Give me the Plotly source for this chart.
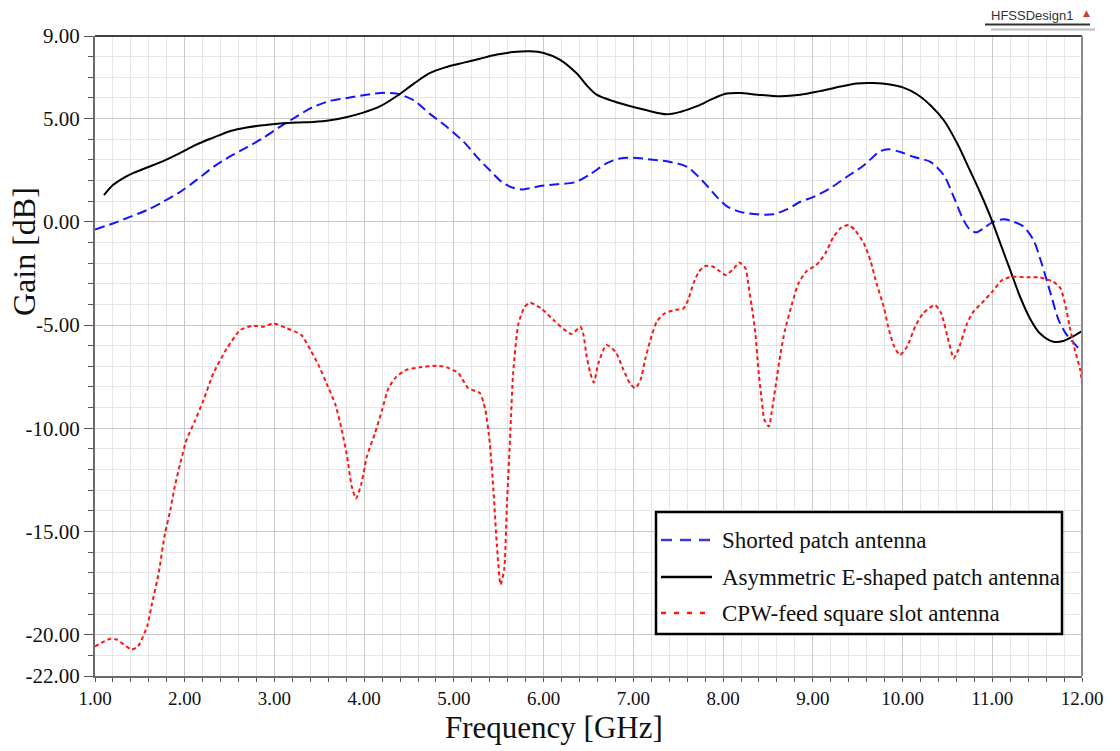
import plotly.graph_objects as go

# ---- data: antenna gain vs frequency ----
freq_shorted = [1.0, 1.2, 1.39, 1.58, 1.76, 1.95, 2.13, 2.32, 2.51, 2.69, 2.88, 3.06, 3.25, 3.43,
                3.62, 3.81, 3.99, 4.18, 4.36, 4.55, 4.73, 4.92, 5.11, 5.29, 5.40, 5.53, 5.66, 5.77,
                5.96, 6.15, 6.35, 6.52, 6.70, 6.85, 7.00, 7.19, 7.41, 7.60, 7.78, 7.93, 8.04, 8.19,
                8.38, 8.56, 8.71, 8.86, 9.01, 9.19, 9.38, 9.57, 9.75, 9.84, 9.97, 10.12, 10.31,
                10.46, 10.57, 10.68, 10.75, 10.82, 10.90, 11.01, 11.13, 11.24, 11.35, 11.46, 11.55,
                11.65, 11.74, 11.83, 11.93, 12.0]
gain_shorted = [-0.37, -0.08, 0.24, 0.57, 0.97, 1.45, 2.02, 2.66, 3.18, 3.6, 4.08, 4.6, 5.11, 5.56,
                5.86, 6.0, 6.13, 6.24, 6.21, 5.89, 5.24, 4.6, 3.87, 2.98, 2.5, 1.94, 1.65, 1.57,
                1.73, 1.82, 1.92, 2.31, 2.83, 3.07, 3.1, 3.02, 2.9, 2.66, 1.94, 1.21, 0.76, 0.48,
                0.36, 0.37, 0.6, 0.97, 1.21, 1.62, 2.18, 2.74, 3.42, 3.52, 3.39, 3.15, 2.9,
                2.26, 1.21, 0.08, -0.37, -0.51, -0.32, 0.0, 0.12, 0.0, -0.24, -0.89, -2.01,
                -3.47, -4.76, -5.48, -5.97, -6.29]

freq_eshape = [1.10, 1.20, 1.32, 1.43, 1.58, 1.76, 1.95, 2.13, 2.32, 2.51, 2.69, 2.88, 3.06, 3.25,
               3.43, 3.62, 3.81, 3.99, 4.18, 4.36, 4.55, 4.73, 4.92, 5.11, 5.29, 5.48, 5.66, 5.85,
               6.00, 6.18, 6.37, 6.48, 6.59, 6.78, 6.96, 7.15, 7.37, 7.52, 7.71, 7.89, 8.04, 8.19,
               8.38, 8.64, 8.86, 9.08, 9.31, 9.49, 9.68, 9.86, 10.01, 10.16, 10.31, 10.46, 10.61,
               10.75, 10.87, 10.98, 11.09, 11.20, 11.31, 11.42, 11.53, 11.68, 11.80, 11.91, 12.0]
gain_eshape = [1.29, 1.78, 2.13, 2.37, 2.63, 2.94, 3.34, 3.74, 4.08, 4.4, 4.57, 4.68, 4.76, 4.81,
               4.84, 4.92, 5.08, 5.29, 5.6, 6.08, 6.68, 7.2, 7.5, 7.71, 7.9, 8.1, 8.22, 8.26,
               8.18, 7.86, 7.18, 6.61, 6.16, 5.84, 5.61, 5.4, 5.21, 5.32, 5.6, 5.97, 6.21, 6.24,
               6.16, 6.08, 6.15, 6.33, 6.55, 6.7, 6.72, 6.65, 6.5, 6.18, 5.65, 4.92, 3.79,
               2.5, 1.37, 0.24, -1.05, -2.34, -3.63, -4.68, -5.4, -5.81, -5.76, -5.52, -5.29]

freq_cpw = [1.00, 1.17, 1.24, 1.41, 1.48, 1.58, 1.63, 1.71, 1.78, 1.84, 1.89, 1.95, 2.02, 2.11,
            2.21, 2.32, 2.47, 2.62, 2.76, 2.88, 2.99, 3.14, 3.30, 3.40, 3.49, 3.58, 3.68, 3.75,
            3.81, 3.86, 3.91, 3.97, 4.03, 4.12, 4.20, 4.27, 4.36, 4.47, 4.62, 4.81, 4.92, 5.05,
            5.16, 5.29, 5.35, 5.40, 5.44, 5.48, 5.52, 5.56, 5.59, 5.63, 5.66, 5.72, 5.79, 5.85,
            5.98, 6.11, 6.31, 6.41, 6.44, 6.48, 6.52, 6.56, 6.61, 6.70, 6.80, 6.89, 6.96, 7.02,
            7.08, 7.13, 7.19, 7.26, 7.35, 7.47, 7.56, 7.61, 7.67, 7.73, 7.80, 7.89, 7.97, 8.03,
            8.12, 8.18, 8.25, 8.28, 8.32, 8.36, 8.39, 8.43, 8.46, 8.51, 8.54, 8.59, 8.64, 8.69,
            8.77, 8.84, 8.93, 9.04, 9.14, 9.23, 9.32, 9.40, 9.47, 9.57, 9.64, 9.71, 9.79, 9.84,
            9.90, 9.97, 10.05, 10.14, 10.23, 10.36, 10.43, 10.51, 10.57, 10.62, 10.72, 10.79,
            10.88, 11.00, 11.11, 11.22, 11.39, 11.53, 11.68, 11.76, 11.81, 11.87, 11.92, 11.98,
            12.00]
gain_cpw = [-20.56, -20.2, -20.23, -20.72, -20.56, -19.6, -18.6, -17.0, -15.1, -13.95, -12.8, -11.7,
            -10.56, -9.68, -8.63, -7.33, -6.13, -5.24, -5.03, -5.08, -4.92, -5.16, -5.48, -6.2,
            -6.93, -7.82, -8.87, -10.08, -11.37, -12.8, -13.4, -12.66, -11.37, -10.24, -9.11,
            -8.06, -7.5, -7.17, -7.05, -6.97, -7.05, -7.33, -8.06, -8.3, -9.11, -10.72, -12.98,
            -15.72, -17.58, -16.85, -13.79, -10.08, -7.33, -4.92, -4.11, -3.92, -4.22, -4.76,
            -5.43, -5.08, -5.4, -6.53, -7.33, -7.79, -6.85, -5.97, -6.29, -7.17, -7.82, -8.06,
            -7.66, -6.69, -5.72, -4.84, -4.43, -4.27, -4.19, -3.79, -2.98, -2.42, -2.14, -2.18,
            -2.42, -2.58, -2.26, -1.97, -2.26, -2.98, -4.11, -5.4, -7.01, -8.63, -9.59, -9.92,
            -9.27, -7.82, -6.37, -5.24, -3.95, -2.98, -2.39, -2.09, -1.53, -0.73, -0.27, -0.16,
            -0.4, -1.05, -1.85, -2.98, -4.11, -5.08, -5.97, -6.45, -6.05, -5.08, -4.43, -4.03,
            -4.43, -5.72, -6.61, -6.21, -4.92, -4.35, -3.95, -3.39, -2.82, -2.66, -2.69, -2.69,
            -2.9, -3.22, -3.95, -5.24, -6.21, -7.17, -7.82]

series_names = ["Shorted patch antenna", "Asymmetric E-shaped patch antenna",
                "CPW-feed square slot antenna"]

x_ticks = [1, 2, 3, 4, 5, 6, 7, 8, 9, 10, 11, 12]
y_ticks = [9, 5, 0, -5, -10, -15, -20, -22]

# ---- page geometry (pixels) ----
W, H = 1120, 751
L, R, T, B = 95, 1082, 36, 676
SERIF = "Liberation Serif"


def px(xp):
    return (xp - L) / (R - L)


def py(yp):
    return (B - yp) / (B - T)


styles = [
    dict(color="#1414ff", width=2, dash="10px,5px"),
    dict(color="#000000", width=2, dash="solid"),
    dict(color="#ff1414", width=2, dash="4px,3px"),
]

fig = go.Figure()
for xs, ys, name, st, sm in [
    (freq_shorted, gain_shorted, series_names[0], styles[0], 0.8),
    (freq_eshape, gain_eshape, series_names[1], styles[1], 0.9),
    (freq_cpw, gain_cpw, series_names[2], styles[2], 0.6),
]:
    fig.add_trace(go.Scatter(x=xs, y=ys, mode="lines", name=name, showlegend=False,
                             line=dict(shape="spline", smoothing=sm, **st)))

fig.update_layout(
    width=W, height=H,
    margin=dict(l=L, r=W - R, t=T, b=H - B),
    paper_bgcolor="white", plot_bgcolor="white",
    font=dict(family=SERIF, color="#111111"),
)

fig.update_xaxes(
    range=[1, 12], tickvals=x_ticks, ticktext=[f"{v:.2f}" for v in x_ticks],
    tickfont=dict(family=SERIF, size=19, color="#111111"),
    showgrid=True, gridcolor="#c9c9c9", gridwidth=1,
    ticks="outside", ticklen=4, tickcolor="#555555",
    showline=True, linecolor="#6a6a6a", linewidth=2, zeroline=False,
    minor=dict(dtick=0.2, tick0=1, showgrid=True, gridcolor="#e6e6e6", gridwidth=1,
               ticks="outside", ticklen=4, tickcolor="#555555"),
)
fig.update_yaxes(
    range=[-22, 9], tickvals=y_ticks, ticktext=[f"{v:.2f}" for v in y_ticks],
    tickfont=dict(family=SERIF, size=21, color="#111111"),
    showgrid=True, gridcolor="#c9c9c9", gridwidth=1,
    ticks="outside", ticklen=9, tickcolor="#555555",
    showline=True, linecolor="#6a6a6a", linewidth=2, zeroline=False,
    minor=dict(dtick=1, tick0=0, showgrid=True, gridcolor="#e6e6e6", gridwidth=1,
               ticks="outside", ticklen=5, tickcolor="#555555"),
)

shapes = []
annotations = []

# frame: top and right edges
shapes.append(dict(type="line", xref="paper", yref="paper", x0=0, x1=1, y0=1, y1=1,
                   line=dict(color="#000000", width=1.5)))
shapes.append(dict(type="line", xref="paper", yref="paper", x0=1, x1=1, y0=0, y1=1,
                   line=dict(color="#8a8a8a", width=2)))

# axis titles
annotations.append(dict(text="Frequency [GHz]", xref="paper", yref="paper",
                        x=px(554), y=py(727), xanchor="center", yanchor="middle",
                        showarrow=False, font=dict(family=SERIF, size=31, color="#111111")))
annotations.append(dict(text="Gain [dB]", xref="paper", yref="paper",
                        x=px(24), y=py(252), xanchor="center", yanchor="middle", textangle=-90,
                        showarrow=False, font=dict(family=SERIF, size=32, color="#111111")))

# legend box
shapes.append(dict(type="rect", xref="paper", yref="paper",
                   x0=px(656), x1=px(1062), y0=py(634), y1=py(512),
                   fillcolor="white", line=dict(color="#000000", width=2.5), layer="above"))
legend_rows = [540, 577, 613]
legend_dash = ["11px,8px", "solid", "5px,8px"]
legend_colors = ["#3a3ad6", "#000000", "#ff1414"]
for row, st, dsh, col, name in zip(legend_rows, styles, legend_dash, legend_colors, series_names):
    shapes.append(dict(type="line", xref="paper", yref="paper",
                       x0=px(661), x1=px(712), y0=py(row), y1=py(row),
                       line=dict(color=col, width=2.5, dash=dsh), layer="above"))
    annotations.append(dict(text=name, xref="paper", yref="paper",
                            x=px(720), y=py(row), xanchor="left", yanchor="middle",
                            showarrow=False, font=dict(family=SERIF, size=23, color="#111111")))

# design tag in the top-right corner
annotations.append(dict(text="HFSSDesign1", xref="paper", yref="paper",
                        x=px(1032), y=py(15), xanchor="center", yanchor="middle",
                        showarrow=False, font=dict(family="Liberation Sans", size=13, color="#333333")))
annotations.append(dict(text="▲", xref="paper", yref="paper",
                        x=px(1086), y=py(13), xanchor="center", yanchor="middle",
                        showarrow=False, font=dict(family="DejaVu Sans", size=9, color="#d23a3a")))
shapes.append(dict(type="line", xref="paper", yref="paper",
                   x0=px(985), x1=px(1090), y0=py(24.5), y1=py(24.5),
                   line=dict(color="#333333", width=2)))
shapes.append(dict(type="line", xref="paper", yref="paper",
                   x0=px(991), x1=px(1095), y0=py(29.5), y1=py(29.5),
                   line=dict(color="#bdbdbd", width=2)))

fig.update_layout(shapes=shapes, annotations=annotations)

fig.write_html("out.html")
